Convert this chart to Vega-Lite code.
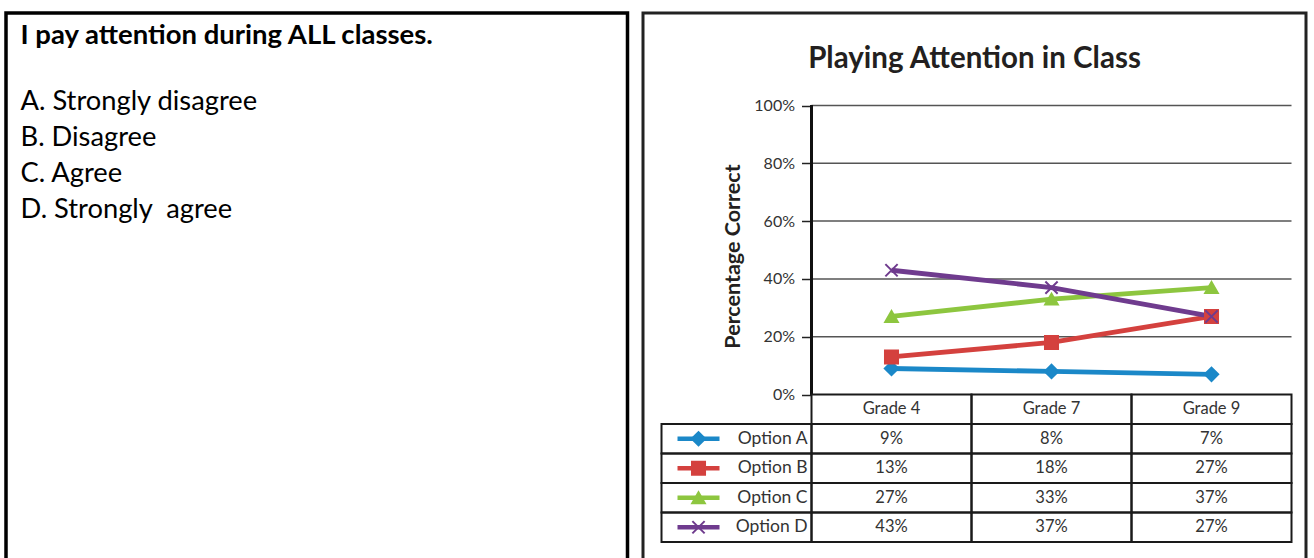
{
  "$schema": "https://vega.github.io/schema/vega-lite/v6.json",
  "background": "white",
  "padding": {"left": 4, "top": 11, "right": 0, "bottom": 0},
  "spacing": 11,
  "datasets": {
    "series": [
      {"option": "Option A", "grade": "Grade 4", "value": 9},
      {"option": "Option A", "grade": "Grade 7", "value": 8},
      {"option": "Option A", "grade": "Grade 9", "value": 7},
      {"option": "Option B", "grade": "Grade 4", "value": 13},
      {"option": "Option B", "grade": "Grade 7", "value": 18},
      {"option": "Option B", "grade": "Grade 9", "value": 27},
      {"option": "Option C", "grade": "Grade 4", "value": 27},
      {"option": "Option C", "grade": "Grade 7", "value": 33},
      {"option": "Option C", "grade": "Grade 9", "value": 37},
      {"option": "Option D", "grade": "Grade 4", "value": 43},
      {"option": "Option D", "grade": "Grade 7", "value": 37},
      {"option": "Option D", "grade": "Grade 9", "value": 27}
    ],
    "gridvals": [{"v": 20}, {"v": 40}, {"v": 60}, {"v": 80}, {"v": 100}],
    "question": [
      {"order": 0, "text": "I pay attention during ALL classes."},
      {"order": 1, "text": "A. Strongly disagree"},
      {"order": 2, "text": "B. Disagree"},
      {"order": 3, "text": "C. Agree"},
      {"order": 4, "text": "D. Strongly\u00a0 agree"}
    ]
  },
  "hconcat": [
    {
      "width": 621.5,
      "height": 550,
      "view": {"stroke": "#000000", "strokeWidth": 3.5},
      "data": {"name": "question"},
      "layer": [
        {
          "transform": [{"filter": "datum.order == 0"}],
          "mark": {"type": "text", "align": "left", "baseline": "alphabetic", "font": "Lato", "fontSize": 27.5, "fontWeight": "bold", "color": "#000000", "dx": 14.5, "dy": -30},
          "encoding": {
            "x": {"datum": 0, "type": "quantitative", "scale": {"domain": [0, 1]}, "axis": null},
            "y": {"field": "order", "type": "quantitative", "scale": {"domain": [-1.694, 13.583], "reverse": true, "nice": false, "zero": false}, "axis": null},
            "text": {"field": "text"}
          }
        },
        {
          "transform": [{"filter": "datum.order > 0"}],
          "mark": {"type": "text", "align": "left", "baseline": "alphabetic", "font": "Lato", "fontSize": 27.3, "color": "#000000", "dx": 14.5},
          "encoding": {
            "x": {"datum": 0, "type": "quantitative", "axis": null},
            "y": {"field": "order", "type": "quantitative", "axis": null},
            "text": {"field": "text"}
          }
        }
      ]
    },
    {
      "width": 663,
      "height": 550,
      "view": {"stroke": "#222222", "strokeWidth": 3},
      "title": {"text": "Playing Attention in Class", "font": "Lato", "fontSize": 29.5, "fontWeight": "bold", "color": "#231f20", "anchor": "middle", "frame": "group", "baseline": "alphabetic", "offset": -84},
      "resolve": {"scale": {"y": "independent"}},
      "layer": [
        {
          "layer": [
            {
              "data": {"name": "gridvals"},
              "mark": {"type": "rule", "color": "#555555", "strokeWidth": 1.5},
              "encoding": {
                "y": {
                  "field": "v", "type": "quantitative",
                  "scale": {"type": "linear", "domain": [-58.30, 132.01], "nice": false, "zero": false},
                  "axis": {
                    "values": [0, 20, 40, 60, 80, 100],
                    "labelExpr": "datum.value + '%'",
                    "offset": -168.5,
                    "domain": false,
                    "grid": false,
                    "ticks": true,
                    "tickSize": 10,
                    "tickColor": "#222222",
                    "tickWidth": 1.5,
                    "labelFont": "Lato",
                    "labelFontSize": 16,
                    "labelColor": "#333333",
                    "labelPadding": 7,
                    "title": "Percentage Correct",
                    "titleFont": "Lato",
                    "titleFontSize": 21.5,
                    "titleFontWeight": "bold",
                    "titleColor": "#231f20",
                    "titleAngle": 270,
                    "titleX": -72,
                    "titleY": 243,
                    "titleBaseline": "alphabetic",
                    "titleAlign": "center"
                  }
                },
                "x": {"datum": "Grade 4", "type": "nominal", "bandPosition": 0, "scale": {"type": "band", "domain": ["Grade 4", "Grade 7", "Grade 9"], "paddingInner": 0, "paddingOuter": 0.571875, "align": 0.9208}, "axis": null},
                "x2": {"datum": "Grade 9", "bandPosition": 1}
              }
            },
            {
              "data": {"name": "series"},
              "mark": {"type": "rule", "color": "#111111", "strokeWidth": 2},
              "encoding": {
                "x": {"datum": "Grade 4", "type": "nominal", "bandPosition": 0, "axis": null},
                "y": {"datum": 0, "type": "quantitative"},
                "y2": {"datum": 100}
              }
            },
            {
              "data": {"name": "series"},
              "mark": {"type": "line", "strokeWidth": 4.8},
              "encoding": {
                "x": {"field": "grade", "type": "nominal", "axis": null},
                "y": {"field": "value", "type": "quantitative"},
                "color": {"field": "option", "type": "nominal", "scale": {"domain": ["Option A", "Option B", "Option C", "Option D"], "range": ["#1b88c8", "#d4413e", "#8dc63f", "#6f3b8e"]}, "legend": null}
              }
            },
            {
              "data": {"name": "series"},
              "mark": {"type": "point", "filled": true, "opacity": 1, "strokeWidth": 2},
              "encoding": {
                "x": {"field": "grade", "type": "nominal", "axis": null},
                "y": {"field": "value", "type": "quantitative"},
                "color": {"field": "option", "type": "nominal", "legend": null},
                "stroke": {"field": "option", "type": "nominal", "scale": {"domain": ["Option A", "Option B", "Option C", "Option D"], "range": ["#1b88c8", "#d4413e", "#8dc63f", "#6f3b8e"]}, "legend": null},
                "shape": {"field": "option", "type": "nominal", "scale": {"domain": ["Option A", "Option B", "Option C", "Option D"], "range": ["diamond", "square", "triangle-up", "M-1,-1L1,1M-1,1L1,-1"]}, "legend": null},
                "size": {"field": "option", "type": "nominal", "scale": {"domain": ["Option A", "Option B", "Option C", "Option D"], "range": [180, 150, 210, 210]}, "legend": null}
              }
            }
          ]
        },
        {
          "layer": [
            {
              "data": {"name": "series"},
              "mark": {"type": "rect", "fill": "transparent", "stroke": "#1a1a1a", "strokeWidth": 2},
              "encoding": {
                "x": {"field": "grade", "type": "nominal", "axis": null},
                "y": {"field": "option", "type": "nominal", "scale": {"type": "band", "domain": ["header", "Option A", "Option B", "Option C", "Option D"], "paddingInner": 0, "paddingOuter": 0, "range": [381.5, 529]}, "axis": null}
              }
            },
            {
              "data": {"name": "series"},
              "transform": [{"filter": "datum.option == 'Option A'"}],
              "mark": {"type": "rect", "fill": "transparent", "stroke": "#1a1a1a", "strokeWidth": 2},
              "encoding": {
                "x": {"field": "grade", "type": "nominal", "axis": null},
                "y": {"datum": "header", "type": "nominal", "axis": null}
              }
            },
            {
              "data": {"name": "series"},
              "transform": [{"filter": "datum.grade == 'Grade 4'"}],
              "mark": {"type": "rect", "fill": "transparent", "stroke": "#1a1a1a", "strokeWidth": 2},
              "encoding": {
                "x": {"datum": "Grade 4", "type": "nominal", "bandPosition": -0.9375, "axis": null},
                "x2": {"datum": "Grade 4", "bandPosition": 0},
                "y": {"field": "option", "type": "nominal", "axis": null}
              }
            },
            {
              "data": {"name": "series"},
              "transform": [{"filter": "datum.option == 'Option A'"}],
              "mark": {"type": "text", "font": "Lato", "fontSize": 16.5, "color": "#333333", "baseline": "middle"},
              "encoding": {
                "x": {"field": "grade", "type": "nominal", "axis": null},
                "y": {"datum": "header", "type": "nominal", "axis": null},
                "text": {"field": "grade"}
              }
            },
            {
              "data": {"name": "series"},
              "transform": [{"calculate": "datum.value + '%'", "as": "label"}],
              "mark": {"type": "text", "font": "Lato", "fontSize": 16.5, "color": "#333333", "baseline": "middle"},
              "encoding": {
                "x": {"field": "grade", "type": "nominal", "axis": null},
                "y": {"field": "option", "type": "nominal", "axis": null},
                "text": {"field": "label"}
              }
            },
            {
              "data": {"name": "series"},
              "transform": [{"filter": "datum.grade == 'Grade 4'"}],
              "mark": {"type": "text", "font": "Lato", "fontSize": 17.5, "color": "#333333", "baseline": "middle", "align": "right", "dx": -4},
              "encoding": {
                "x": {"datum": "Grade 4", "type": "nominal", "bandPosition": 0, "axis": null},
                "y": {"field": "option", "type": "nominal", "axis": null},
                "text": {"field": "option"}
              }
            },
            {
              "data": {"name": "series"},
              "transform": [{"filter": "datum.grade == 'Grade 4'"}],
              "mark": {"type": "rule", "strokeWidth": 4.5},
              "encoding": {
                "x": {"datum": "Grade 4", "type": "nominal", "bandPosition": -0.8375, "axis": null},
                "x2": {"datum": "Grade 4", "bandPosition": -0.575},
                "y": {"field": "option", "type": "nominal", "bandPosition": 0.5, "axis": null},
                "color": {"field": "option", "type": "nominal", "legend": null}
              }
            },
            {
              "data": {"name": "series"},
              "transform": [{"filter": "datum.grade == 'Grade 4'"}],
              "mark": {"type": "point", "filled": true, "opacity": 1, "strokeWidth": 2},
              "encoding": {
                "x": {"datum": "Grade 4", "type": "nominal", "bandPosition": -0.70625, "axis": null},
                "y": {"field": "option", "type": "nominal", "bandPosition": 0.5, "axis": null},
                "color": {"field": "option", "type": "nominal", "legend": null},
                "stroke": {"field": "option", "type": "nominal", "legend": null},
                "shape": {"field": "option", "type": "nominal", "legend": null},
                "size": {"field": "option", "type": "nominal", "legend": null}
              }
            }
          ]
        }
      ]
    }
  ]
}
